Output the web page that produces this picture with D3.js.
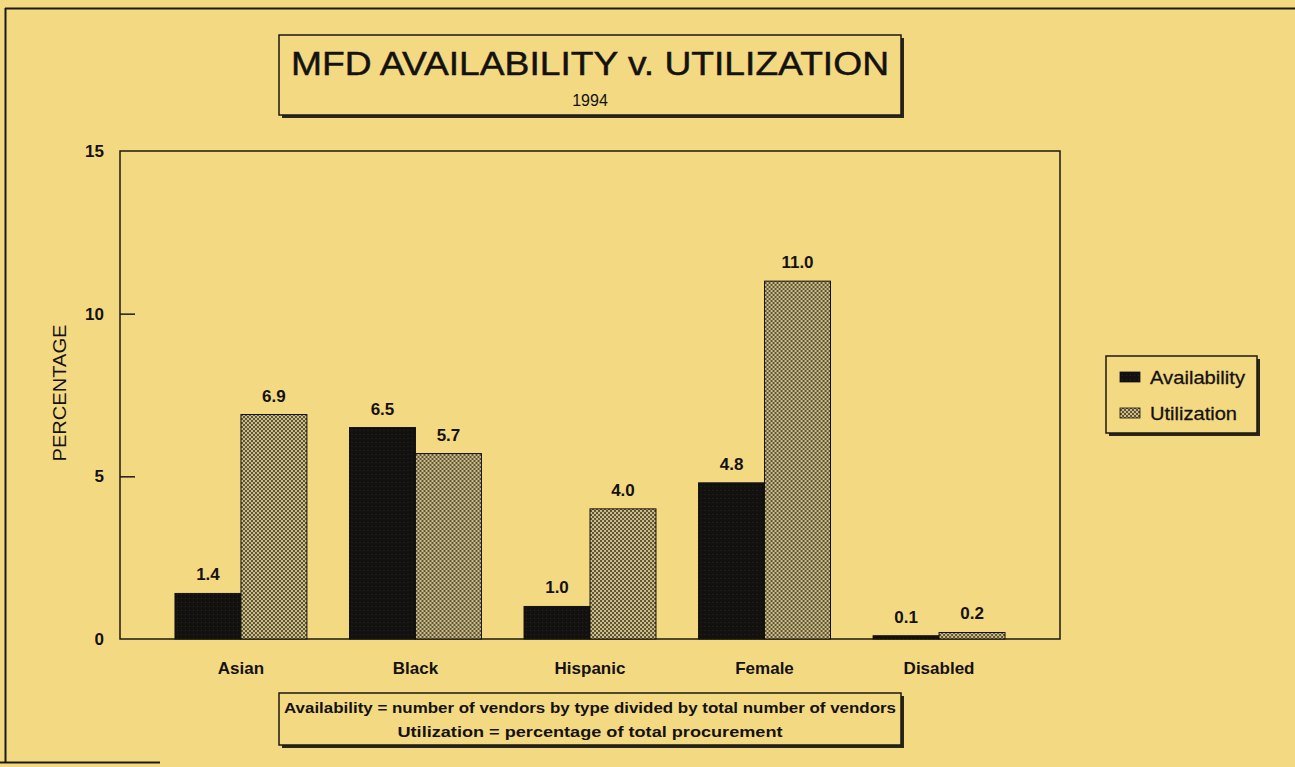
<!DOCTYPE html>
<html>
<head>
<meta charset="utf-8">
<script src="https://cdn.jsdelivr.net/npm/d3@7"></script>
<style>
  html, body { margin: 0; padding: 0; background: #f4d983; overflow: hidden; }
  svg { display: block; font-family: Arial, "Liberation Sans", sans-serif; }
</style>
</head>
<body>
<svg id="chart" width="1295" height="767"></svg>
<script>
// Chart data
const categories = ["Asian", "Black", "Hispanic", "Female", "Disabled"];
const seriesNames = ["Availability", "Utilization"];
const availability = [1.4, 6.5, 1.0, 4.8, 0.1];
const utilization = [6.9, 5.7, 4.0, 11.0, 0.2];
const yTicks = [0, 5, 10, 15];
const titleText = "MFD AVAILABILITY v. UTILIZATION";
const subtitleText = "1994";
const yAxisTitle = "PERCENTAGE";
const noteLines = [
  "Availability = number of vendors by type divided by total number of vendors",
  "Utilization = percentage of total procurement"
];

const svg = d3.select("#chart");
const bg = "#f4d983";
const ink = "#141210";

// Fill patterns
const defs = svg.append("defs");
const pu = defs.append("pattern").attr("id", "pat-util")
  .attr("width", 4).attr("height", 4).attr("patternUnits", "userSpaceOnUse");
pu.append("rect").attr("width", 4).attr("height", 4).attr("fill", "#cdbd88");
pu.append("rect").attr("width", 2).attr("height", 2).attr("fill", "#5e5536");
pu.append("rect").attr("x", 2).attr("y", 2).attr("width", 2).attr("height", 2).attr("fill", "#5e5536");

const pa = defs.append("pattern").attr("id", "pat-avail")
  .attr("width", 4).attr("height", 4).attr("patternUnits", "userSpaceOnUse");
pa.append("rect").attr("width", 4).attr("height", 4).attr("fill", "#121110");
pa.append("rect").attr("x", 2).attr("y", 2).attr("width", 1).attr("height", 1).attr("fill", "#2a2722");

const fills = { Availability: "url(#pat-avail)", Utilization: "url(#pat-util)" };

// Page frame (top, left and the visible part of the bottom edge)
const frame = svg.append("g").attr("stroke", "#1d1a12").attr("stroke-width", 2).attr("fill", "none");
frame.append("line").attr("x1", 5).attr("y1", 8.5).attr("x2", 1295).attr("y2", 8.5);
frame.append("line").attr("x1", 5.5).attr("y1", 8).attr("x2", 5.5).attr("y2", 763);
frame.append("line").attr("x1", 0).attr("y1", 762.5).attr("x2", 160).attr("y2", 762.5);

// Box with a drop shadow on the right and bottom
function shadowBox(x, y, w, h) {
  const g = svg.append("g");
  g.append("rect").attr("x", x + 3).attr("y", y + 3).attr("width", w).attr("height", h)
    .attr("fill", "#2a261c");
  g.append("rect").attr("x", x).attr("y", y).attr("width", w).attr("height", h)
    .attr("fill", bg).attr("stroke", "#1d1a12").attr("stroke-width", 1.5);
  return g;
}

// Title block
shadowBox(279, 35, 622, 80);
svg.append("text").attr("x", 590).attr("y", 75).attr("text-anchor", "middle")
  .attr("font-size", 34).attr("fill", ink)
  .attr("stroke", ink).attr("stroke-width", 0.5)
  .attr("textLength", 598).attr("lengthAdjust", "spacingAndGlyphs")
  .text(titleText);
svg.append("text").attr("x", 590).attr("y", 106).attr("text-anchor", "middle")
  .attr("font-size", 16).attr("fill", ink).text(subtitleText);

// Scales
const plot = { left: 120, right: 1060, top: 151, bottom: 639 };
const x0 = d3.scaleBand().domain(categories).range([plot.left, plot.right])
  .paddingInner(0.244).paddingOuter(0.315);
const x1 = d3.scaleBand().domain(seriesNames).range([0, x0.bandwidth()]);
const y = d3.scaleLinear().domain([0, 15]).range([plot.bottom, plot.top]);

// Plot frame
svg.append("rect").attr("x", plot.left).attr("y", plot.top)
  .attr("width", plot.right - plot.left).attr("height", plot.bottom - plot.top)
  .attr("fill", "none").attr("stroke", "#1d1a12").attr("stroke-width", 1.5);

// Y axis with inward ticks
const yAxis = svg.append("g").attr("transform", `translate(${plot.left},0)`)
  .call(d3.axisLeft(y).tickValues(yTicks).tickSizeInner(-15).tickSizeOuter(0).tickPadding(16));
yAxis.select(".domain").remove();
yAxis.selectAll(".tick line").attr("stroke", "#1d1a12").attr("stroke-width", 1.5);
yAxis.selectAll(".tick text").attr("font-size", 17).attr("font-weight", "bold")
  .attr("fill", ink).attr("font-family", "Arial, 'Liberation Sans', sans-serif");
// the 0 and 15 marks sit on the frame itself
yAxis.selectAll(".tick").filter(d => d === 0 || d === 15).select("line").remove();

svg.append("text").attr("transform", `translate(66,${(plot.top + plot.bottom) / 2 - 2}) rotate(-90)`)
  .attr("text-anchor", "middle").attr("font-size", 18).attr("fill", ink)
  .attr("textLength", 137).attr("lengthAdjust", "spacingAndGlyphs")
  .text(yAxisTitle);

// Bars
const rows = categories.map((c, i) => ({
  cat: c,
  values: [
    { key: "Availability", value: availability[i] },
    { key: "Utilization", value: utilization[i] }
  ]
}));

const groups = svg.append("g").selectAll("g").data(rows).join("g")
  .attr("transform", d => `translate(${x0(d.cat)},0)`);

groups.selectAll("rect").data(d => d.values).join("rect")
  .attr("x", d => x1(d.key))
  .attr("y", d => y(d.value))
  .attr("width", x1.bandwidth())
  .attr("height", d => y(0) - y(d.value))
  .attr("fill", d => fills[d.key])
  .attr("stroke", ink).attr("stroke-width", 1);

groups.selectAll("text.val").data(d => d.values).join("text")
  .attr("class", "val")
  .attr("x", d => x1(d.key) + x1.bandwidth() / 2)
  .attr("y", d => y(d.value) - 13)
  .attr("text-anchor", "middle").attr("font-size", 17).attr("font-weight", "bold")
  .attr("fill", ink)
  .text(d => d.value.toFixed(1));

// Category labels
svg.append("g").selectAll("text").data(categories).join("text")
  .attr("x", d => x0(d) + x0.bandwidth() / 2)
  .attr("y", 674)
  .attr("text-anchor", "middle").attr("font-size", 17).attr("font-weight", "bold")
  .attr("fill", ink)
  .text(d => d);

// Legend
shadowBox(1106, 356, 151, 77);
const legend = svg.append("g").selectAll("g").data(seriesNames).join("g")
  .attr("transform", (d, i) => `translate(1120,${377 + i * 36})`);
legend.append("rect").attr("x", 0).attr("y", -5).attr("width", 20).attr("height", 10)
  .attr("fill", d => fills[d]).attr("stroke", ink).attr("stroke-width", 0.8);
legend.append("text").attr("x", 30).attr("y", 7).attr("font-size", 19).attr("fill", ink)
  .attr("stroke", ink).attr("stroke-width", 0.3)
  .attr("textLength", (d, i) => i === 0 ? 95 : 87).attr("lengthAdjust", "spacingAndGlyphs")
  .text(d => d);

// Definitions note
shadowBox(279, 693, 622, 52);
svg.append("g").selectAll("text").data(noteLines).join("text")
  .attr("x", 590).attr("y", (d, i) => 713 + i * 24)
  .attr("text-anchor", "middle").attr("font-size", 15).attr("font-weight", "bold")
  .attr("fill", ink)
  .attr("textLength", (d, i) => i === 0 ? 612 : 385)
  .attr("lengthAdjust", "spacingAndGlyphs")
  .text(d => d);
</script>
</body>
</html>
